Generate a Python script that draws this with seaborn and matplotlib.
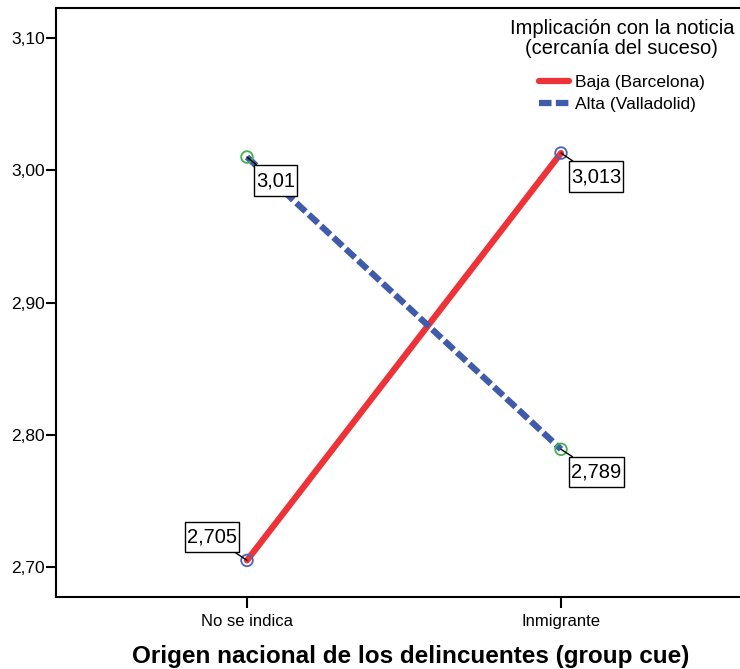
import matplotlib
matplotlib.use("Agg")
import matplotlib.pyplot as plt
from matplotlib.path import Path
import pandas as pd
import seaborn as sns

# Data
categories = ["No se indica", "Inmigrante"]
groups = ["Baja (Barcelona)", "Alta (Valladolid)"]
baja_values = [2.705, 3.013]
alta_values = [3.01, 2.789]
value_labels_baja = ["2,705", "3,013"]
value_labels_alta = ["3,01", "2,789"]
ytick_values = [2.70, 2.80, 2.90, 3.00, 3.10]
ytick_labels = ["2,70", "2,80", "2,90", "3,00", "3,10"]

df = pd.DataFrame({
    "origen": categories * 2,
    "grupo": [groups[0]] * 2 + [groups[1]] * 2,
    "media": baja_values + alta_values,
})

sns.set_style("white")
plt.rcParams["font.family"] = ["Liberation Sans", "DejaVu Sans"]
plt.rcParams["text.color"] = "black"
plt.rcParams["xtick.color"] = "black"
plt.rcParams["ytick.color"] = "black"
plt.rcParams["axes.labelcolor"] = "black"

fig = plt.figure(figsize=(7.4, 6.69), dpi=100)
ax = fig.add_axes([56 / 740, 72 / 669, 696 / 740, 589 / 669])

line_colors = {groups[0]: "#EE3338", groups[1]: "#3F5BAA"}
marker_colors = {groups[0]: "#4A63B5", groups[1]: "#3DB54A"}

sns.lineplot(
    data=df, x="origen", y="media", hue="grupo", style="grupo",
    palette=line_colors, dashes={groups[0]: "", groups[1]: (2.0, 0.7)},
    linewidth=4.5, sort=False, ax=ax,
)
sns.scatterplot(
    data=df, x="origen", y="media", hue="grupo", palette=marker_colors,
    marker="o", s=70, linewidth=1.3, legend=False, ax=ax, zorder=5,
)
# open circles: scatterplot fills with hue colour, so swap to edge only
for coll in ax.collections:
    fc = coll.get_facecolors()
    coll.set_edgecolors(fc)
    coll.set_facecolors("none")

ax.set_xlim(-191 / 314, 1 + 191 / 314)
ax.set_ylim(2.70 - 30 / 1323, 3.10 + 30 / 1323)
ax.set_yticks(ytick_values)
ax.set_yticklabels(ytick_labels)

for sp in ["top", "left", "bottom"]:
    ax.spines[sp].set_visible(True)
    ax.spines[sp].set_color("black")
    ax.spines[sp].set_linewidth(1.5)
ax.spines["right"].set_visible(False)

ax.tick_params(axis="y", direction="out", length=7, width=1.5, labelsize=12.5,
               left=True, pad=1)
ax.tick_params(axis="x", direction="out", length=8, width=1.5, labelsize=12,
               bottom=True, pad=4)

ax.set_ylabel("")
ax.set_xlabel("Origen nacional de los delincuentes (group cue)",
              fontsize=17.5, fontweight="bold")
ax.xaxis.set_label_coords(0.51, -0.082)


# SPSS-like label box: thin side padding, taller top/bottom padding
def label_box(x0, y0, width, height, mutation_size):
    px = 0.1 * mutation_size
    py = 0.28 * mutation_size
    x1, y1 = x0 - px, y0 - py
    x2, y2 = x0 + width + px, y0 + height + py
    return Path([(x1, y1), (x2, y1), (x2, y2), (x1, y2), (x1, y1)], closed=True)


box = dict(boxstyle=label_box, facecolor="white", edgecolor="black", lw=1)
arrow = dict(arrowstyle="-", color="black", lw=1, shrinkA=0, shrinkB=0)
offsets_baja = [(-35, 23.5), (35, -23.5)]
offsets_alta = [(28.5, -23.5), (35.5, -23)]
for i, cat in enumerate(categories):
    ax.annotate(value_labels_baja[i], xy=(i, baja_values[i]),
                xytext=offsets_baja[i], textcoords="offset pixels",
                ha="center", va="center", fontsize=14.5, bbox=box,
                arrowprops=arrow, zorder=6)
    ax.annotate(value_labels_alta[i], xy=(i, alta_values[i]),
                xytext=offsets_alta[i], textcoords="offset pixels",
                ha="center", va="center", fontsize=14.5, bbox=box,
                arrowprops=arrow, zorder=6)

handles, labels = ax.get_legend_handles_labels()
leg = ax.legend(handles, labels, title="Implicación con la noticia\n(cercanía del suceso)",
                loc="upper right", bbox_to_anchor=((741 - 56) / 696, 0.993),
                frameon=False, fontsize=12.5, title_fontsize=14.5,
                handlelength=1.7, handletextpad=0.35, labelspacing=0.42,
                borderaxespad=0)
leg.get_title().set_multialignment("center")
leg.get_title().set_linespacing(1.05)
leg._legend_box.sep = 12
for h in leg.get_lines():
    h.set_linewidth(4.5)

fig.savefig("out.png", dpi=100)
